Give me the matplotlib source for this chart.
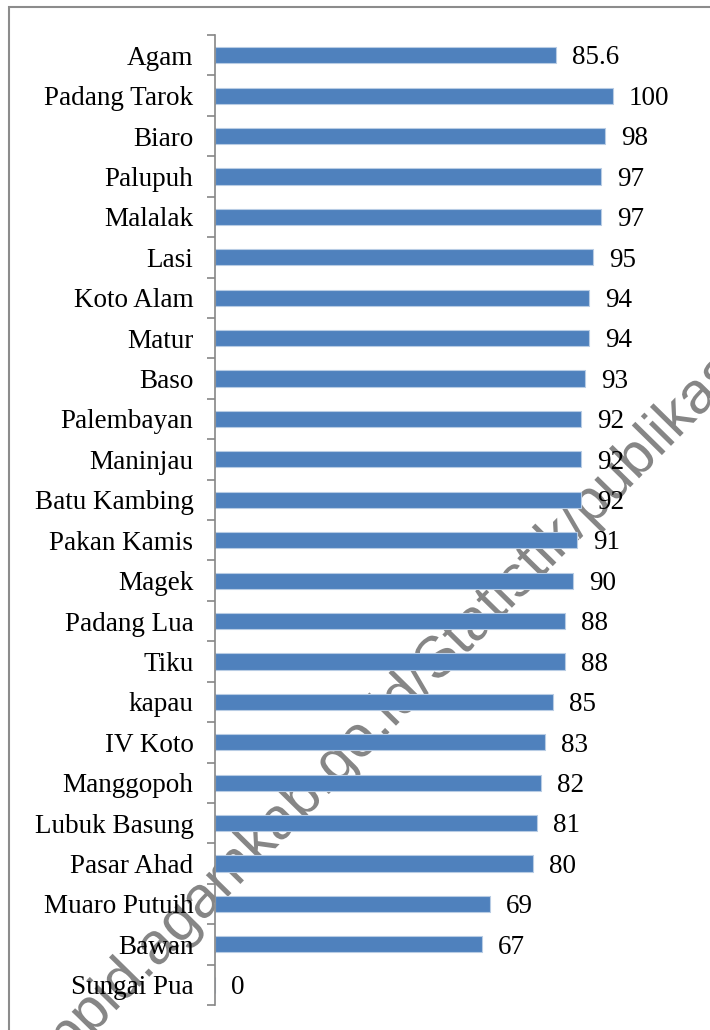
import matplotlib
matplotlib.use("Agg")
import matplotlib.pyplot as plt
import matplotlib.patheffects as pe
from matplotlib.patches import Rectangle
from matplotlib.textpath import TextPath
from matplotlib.font_manager import FontProperties
import numpy as np

plt.rcParams['font.family'] = ['Liberation Serif', 'DejaVu Serif']

# data
kecamatan = ["Agam", "Padang Tarok", "Biaro", "Palupuh", "Malalak", "Lasi",
             "Koto Alam", "Matur", "Baso", "Palembayan", "Maninjau",
             "Batu Kambing", "Pakan Kamis", "Magek", "Padang Lua", "Tiku",
             "kapau", "IV Koto", "Manggopoh", "Lubuk Basung", "Pasar Ahad",
             "Muaro Putuih", "Bawan", "Sungai Pua"]
nilai = [85.6, 100, 98, 97, 97, 95, 94, 94, 93, 92, 92, 92, 91, 90, 88, 88,
         85, 83, 82, 81, 80, 69, 67, 0]
label_nilai = ["85.6", "100", "98", "97", "97", "95", "94", "94", "93", "92",
               "92", "92", "91", "90", "88", "88", "85", "83", "82", "81",
               "80", "69", "67", "0"]
watermark = "ppid.agamkab.go.id/Statistik/publikasi"

W, H = 710, 1030
fig = plt.figure(figsize=(W / 100, H / 100), dpi=100, facecolor='white')

# axes placed so that 0 sits at x=215px and 100 at x=613px
x0, x100 = 215, 613
xmax = 120
ax_w = (x100 - x0) * xmax / 100
ax = fig.add_axes([x0 / W, 25 / H, ax_w / W, 970 / H])
ax.set_facecolor('none')

y = np.arange(len(kecamatan))
ax.barh(y, nilai, height=0.4, color='#4f81bd', edgecolor='#b8cce4',
        linewidth=0.8, zorder=2)

for yi, v, lab in zip(y, nilai, label_nilai):
    ax.annotate(lab, (v, yi), xytext=(11.5, -2), textcoords='offset points',
                ha='left', va='center', fontsize=19.5, color='black',
                annotation_clip=False)

ax.set_xlim(0, xmax)
ax.set_ylim(len(kecamatan) - 0.5, -0.5)

ax.set_yticks(y)
ax.set_yticklabels(kecamatan, fontsize=19.5)
ax.set_yticks(np.arange(len(kecamatan) + 1) - 0.5, minor=True)
ax.tick_params(axis='y', which='major', length=0, pad=15.5)
ax.tick_params(axis='y', which='minor', length=6, width=1.2, color='#868686')
ax.set_xticks([])

for s in ['top', 'right', 'bottom']:
    ax.spines[s].set_visible(False)
ax.spines['left'].set_color('#868686')
ax.spines['left'].set_linewidth(1.2)

# outer chart frame (cut by the image edge on the right and bottom)
fig.add_artist(Rectangle((9 / W, -0.1), 2, 1 - 7 / H + 0.1, fill=False,
                         edgecolor='#8c8c8c', linewidth=1.5,
                         transform=fig.transFigure, zorder=-2))

# diagonal watermark behind the bars
wm_size = 42
wm_angle = 45.5
wm = fig.text(0.5, 0.5, watermark, fontsize=wm_size, family='Liberation Sans',
              color='#868686', rotation=wm_angle, rotation_mode='anchor',
              ha='center', va='center', zorder=-1)
wm.set_path_effects([pe.withStroke(linewidth=5, foreground='white')])
# shift so that the slash before "Statistik" sits near (412, 688) px
fp = FontProperties(family='Liberation Sans', size=wm_size)
pre_w = TextPath((0, 0), watermark[:watermark.index('/')], prop=fp).get_extents().width
tot_w = TextPath((0, 0), watermark, prop=fp).get_extents().width
shift = (tot_w / 2 - pre_w) * 100 / 72
ang = np.deg2rad(wm_angle)
cx = 412 + shift * np.cos(ang)
cy = (H - 688) + shift * np.sin(ang)
wm.set_position((cx / W, cy / H))

fig.savefig('out.png', dpi=100, facecolor='white')
